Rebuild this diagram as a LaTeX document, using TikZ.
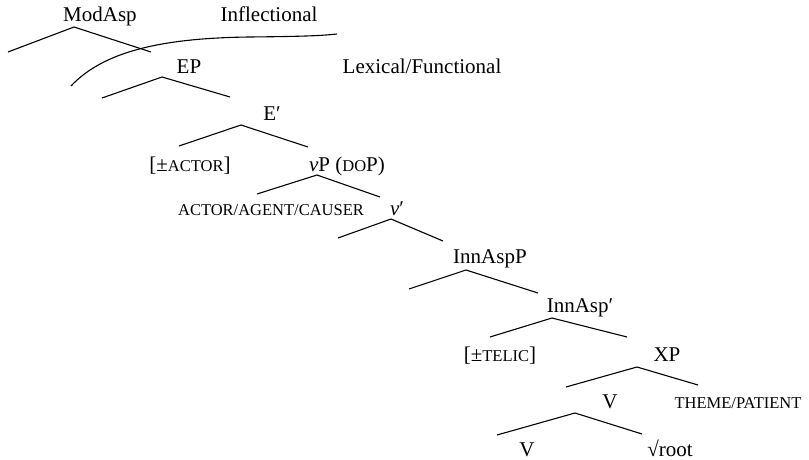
\documentclass[tikz,border=0pt]{standalone}
\usepackage{fontspec}
\setmainfont{Liberation Serif}
\newcommand{\smc}[1]{{\fontsize{16.5}{19}\selectfont #1}}
\begin{document}
\begin{tikzpicture}[x=1pt,y=-1pt,
  lab/.style={anchor=base,inner sep=0pt,font=\fontsize{21}{25}\selectfont},
  branch/.style={line width=1.1pt,line join=miter}]
\useasboundingbox (0,0) rectangle (809,460);
% labels
\node[lab] (modasp) at (100,22) {ModAsp};
\node[lab] (infl) at (269,22) {Inflectional};
\node[lab] (ep) at (189,74) {EP};
\node[lab] (lexf) at (422,74) {Lexical/Functional};
\node[lab] (ebar) at (272,121) {E′};
\node[lab] (actor) at (190,171) {[±\smc{ACTOR}]};
\node[lab] (vp) at (347,171) {\textit{v}P (\smc{DO}P)};
\node[lab] (aac) at (271,215) {\smc{ACTOR/AGENT/CAUSER}};
\node[lab] (vbar) at (397,215) {\textit{v}′};
\node[lab] (innaspp) at (490,263) {InnAspP};
\node[lab] (innaspbar) at (580,312) {InnAsp′};
\node[lab] (telic) at (500,361) {[±\smc{TELIC}]};
\node[lab] (xp) at (667,361) {XP};
\node[lab] (v1) at (610,408) {V};
\node[lab] (theme) at (738,408) {\smc{THEME/PATIENT}};
\node[lab] (v2) at (527,456) {V};
\node[lab] (root) at (670,456) {√root};
% branch points
\coordinate (a1) at (74,27);  \coordinate (l1) at (8,52);    \coordinate (r1) at (151,52);
\coordinate (a2) at (162,77); \coordinate (l2) at (102,98);  \coordinate (r2) at (230,97);
\coordinate (a3) at (241,125);\coordinate (l3) at (179,146); \coordinate (r3) at (308,147);
\coordinate (a4) at (317,175);\coordinate (l4) at (257,194); \coordinate (r4) at (380,197);
\coordinate (a5) at (391,219);\coordinate (l5) at (338,238); \coordinate (r5) at (443,241);
\coordinate (a6) at (466,270);\coordinate (l6) at (409,289); \coordinate (r6) at (538,293);
\coordinate (a7) at (552,318);\coordinate (l7) at (490,337); \coordinate (r7) at (627,337);
\coordinate (a8) at (637,367);\coordinate (l8) at (566,387); \coordinate (r8) at (698,385);
\coordinate (a9) at (575,413);\coordinate (l9) at (497,435); \coordinate (r9) at (642,434);
\foreach \i in {1,...,9} {\draw[branch] (l\i) -- (a\i) -- (r\i);}
% boundary curve
\coordinate (cs) at (71,86);
\coordinate (cm) at (250,37);
\coordinate (ce) at (337,34);
\draw[line width=1.1pt] (cs) .. controls (103,52) and (160,38) .. (cm)
  .. controls (295,36.5) and (320,36) .. (ce);
\end{tikzpicture}
\end{document}
